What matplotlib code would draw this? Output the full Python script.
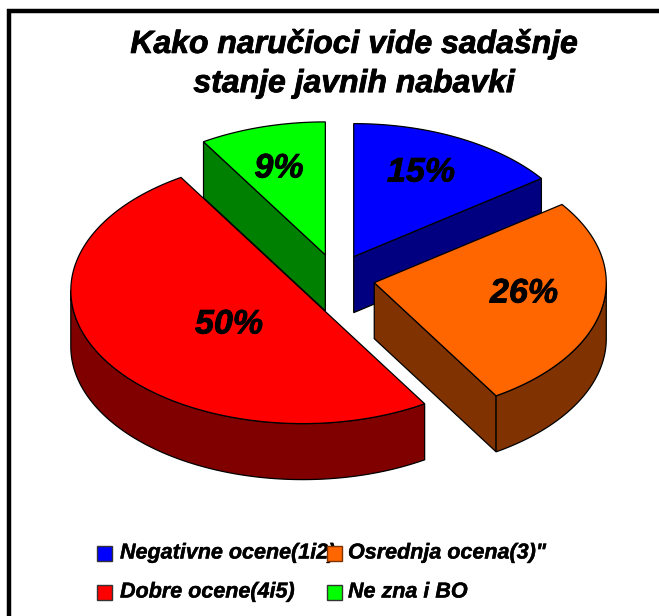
import numpy as np
import matplotlib
matplotlib.use('Agg')
import matplotlib.pyplot as plt
import matplotlib.patheffects as pe
from matplotlib.patches import Polygon, Rectangle

plt.rcParams['font.family'] = ['Liberation Sans', 'DejaVu Sans']

# data
labels = ['Negativne ocene(1i2)', 'Osrednja ocena(3)"', 'Dobre ocene(4i5)', 'Ne zna i BO']
values = [15.0, 26.2, 50.0, 8.8]
top_colors = ['#0000FF', '#FF6600', '#FF0000', '#00FF00']
side_colors = ['#000080', '#803300', '#800000', '#008000']
title = 'Kako naručioci vide sadašnje\nstanje javnih nabavki'

# pie geometry, in pixels of the image
CX, CY = 336, 278
A, B = 232, 133
DEPTH = 56
EXPLODE_X, EXPLODE_Y = 39, 24


def pt(theta, cx, cy):
    # theta is clockwise from 12 o'clock, degrees
    t = np.radians(theta)
    return np.array([cx + A * np.sin(t), cy - B * np.cos(t)])


def arc(t0, t1, cx, cy):
    ts = np.linspace(t0, t1, 120)
    return np.array([pt(t, cx, cy) for t in ts])


fig = plt.figure(figsize=(6.59, 6.16), dpi=100)
ax = fig.add_axes([0, 0, 1, 1])
ax.set_xlim(0, 659)
ax.set_ylim(616, 0)
ax.axis('off')

# frame, only left and top fall inside the picture
ax.plot([9, 9, 659], [616, 11, 11], color='black', lw=3.2, solid_joinstyle='miter')

edges = np.concatenate([[0], np.cumsum(values)]) / sum(values) * 360
slices = []
for i in range(len(values)):
    t0, t1 = edges[i], edges[i + 1]
    mid = np.radians((t0 + t1) / 2)
    cx = CX + EXPLODE_X * np.sin(mid)
    cy = CY - EXPLODE_Y * np.cos(mid)
    slices.append((i, t0, t1, cx, cy))

# back to front: green, blue, red, orange
for i, t0, t1, cx, cy in [slices[3], slices[0], slices[2], slices[1]]:
    apex = np.array([cx, cy])
    down = np.array([0, DEPTH])
    style = dict(fc=side_colors[i], ec='black', lw=0.9, zorder=2)

    # cut faces that look towards the viewer
    if 0 < t1 < 180:
        p = pt(t1, cx, cy)
        ax.add_patch(Polygon([apex, p, p + down, apex + down], **style))
    if 180 < t0 < 360:
        p = pt(t0, cx, cy)
        ax.add_patch(Polygon([apex, p, p + down, apex + down], **style))

    # outer wall, front half only
    a0, a1 = max(t0, 90), min(t1, 270)
    if a0 < a1:
        rim = arc(a0, a1, cx, cy)
        ax.add_patch(Polygon(np.vstack([rim, rim[::-1] + down]), **style))

    # top
    top = np.vstack([[apex], arc(t0, t1, cx, cy)])
    ax.add_patch(Polygon(top, fc=top_colors[i], ec='black', lw=0.9, zorder=2))

# percent labels
heavy = [pe.withStroke(linewidth=0.6, foreground='black')]
label_pos = [(421, 173), (524, 294), (229, 325), (279, 169)]
for v, (x, y) in zip(values, label_pos):
    ax.text(x, y, f'{round(v)}%', ha='center', va='center', fontsize=24.5,
            fontweight='bold', fontstyle='italic', zorder=3, path_effects=heavy)

ax.text(354, 64, title, ha='center', va='center', fontsize=23, fontweight='bold',
        fontstyle='italic', linespacing=1.4, zorder=3, path_effects=heavy)

# legend
leg_text_x = [120, 348, 120, 348]
leg_box_x = [97, 327, 97, 327]
leg_y = [553, 553, 592, 592]
for i in range(len(labels)):
    ax.text(leg_text_x[i], leg_y[i], labels[i], ha='left', va='center', fontsize=15.5,
            fontweight='bold', fontstyle='italic', zorder=3,
            path_effects=[pe.withStroke(linewidth=0.3, foreground='black')])
    ax.add_patch(Rectangle((leg_box_x[i], leg_y[i] - 7.5), 14.5, 15, fc=top_colors[i],
                           ec=side_colors[i] if i == 1 else '#333333', lw=1.0, zorder=4))

fig.savefig('out.png', dpi=100)
